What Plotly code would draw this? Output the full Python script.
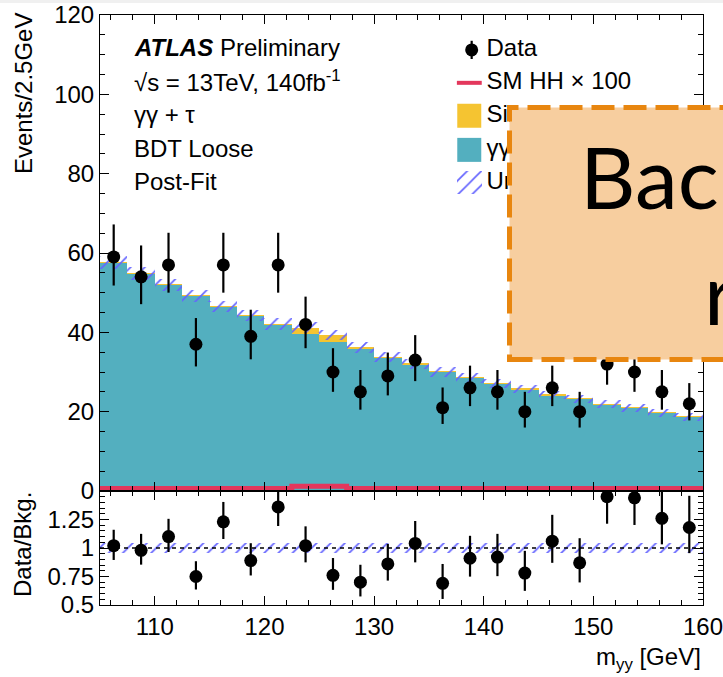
import plotly.graph_objects as go

# ---------------- data ----------------
bin_centers = [106.25, 108.75, 111.25, 113.75, 116.25, 118.75, 121.25, 123.75, 126.25, 128.75, 131.25,
               133.75, 136.25, 138.75, 141.25, 143.75, 146.25, 148.75, 151.25, 153.75, 156.25, 158.75]
bin_edges = [105.0, 107.5, 110.0, 112.5, 115.0, 117.5, 120.0, 122.5, 125.0, 127.5, 130.0, 132.5,
             135.0, 137.5, 140.0, 142.5, 145.0, 147.5, 150.0, 152.5, 155.0, 157.5, 160.0]

data_counts = [59, 54, 57, 37, 57, 39, 57, 42, 30, 25, 29, 33, 21, 26, 25, 20, 26, 20, 32, 30, 25, 22]
data_err_up = [8.2, 7.9, 8.1, 6.6, 8.1, 6.7, 8.1, 7.0, 6.0, 5.5, 5.9, 6.3, 5.1, 5.6, 5.5, 5.0, 5.6, 5.0, 6.2, 6.0, 5.5, 5.2]
data_err_dn = [7.2, 6.9, 7.0, 5.6, 7.0, 5.8, 7.0, 6.0, 5.0, 4.5, 4.9, 5.3, 4.1, 4.6, 4.5, 4.0, 4.6, 4.0, 5.2, 5.0, 4.5, 4.2]

bkg_yy = [57.6, 54.8, 52.0, 49.2, 46.5, 44.2, 42.0, 39.7, 37.6, 35.8, 33.6, 32.0, 30.0, 28.5, 27.0, 25.7,
          24.2, 23.2, 21.9, 21.0, 19.7, 18.7]
single_h = [0.02, 0.02, 0.02, 0.02, 0.02, 0.02, 0.1, 1.5, 1.8, 0.4, 0.1, 0.02, 0.02, 0.02, 0.02, 0.02,
            0.02, 0.02, 0.02, 0.02, 0.02, 0.02]
sm_hh_x100 = [0.6, 0.6, 0.6, 0.6, 0.6, 0.6, 0.6, 1.2, 1.2, 0.6, 0.6, 0.6, 0.6, 0.6, 0.6, 0.6, 0.6, 0.6, 0.6, 0.6, 0.6, 0.6]
bkg_unc = [1.6, 1.6, 1.5, 1.5, 1.5, 1.4, 1.4, 1.4, 1.3, 1.3, 1.3, 1.2, 1.2, 1.2, 1.1, 1.1, 1.1, 1.1, 1.0, 1.0, 1.0, 1.0]

ratio_vals = [1.02, 0.98, 1.10, 0.75, 1.23, 0.89, 1.36, 1.02, 0.76, 0.70, 0.86, 1.04, 0.69, 0.91, 0.92, 0.78,
              1.06, 0.87, 1.45, 1.44, 1.26, 1.18]
ratio_err_up = [0.14, 0.144, 0.156, 0.134, 0.174, 0.152, 0.193, 0.17, 0.152, 0.153, 0.176, 0.197, 0.17, 0.197,
                0.204, 0.195, 0.231, 0.216, 0.283, 0.286, 0.279, 0.278]
ratio_err_dn = [0.125, 0.126, 0.135, 0.114, 0.151, 0.131, 0.167, 0.146, 0.127, 0.125, 0.146, 0.166, 0.137, 0.161,
                0.167, 0.156, 0.19, 0.172, 0.237, 0.238, 0.228, 0.225]
ratio_unc = [0.04] * 22

legend_labels = ["Data", "SM HH \u00d7 100", "Single H", "\u03b3\u03b3 continuum", "Uncertainty"]

# ---------------- styles ----------------
TEAL = "#53AFBF"
YELLOW = "#F5C431"
RED = "#E3375C"
HATCH = "#6464ff"
FONT = "Liberation Sans, Arial, sans-serif"
FS = 24

total_bkg = [b + s for b, s in zip(bkg_yy, single_h)]
widths = [2.5] * len(bin_centers)
hatch_pattern = dict(shape="/", fgcolor=HATCH, fgopacity=1, bgcolor="rgba(0,0,0,0)", size=10, solidity=0.17)

fig = go.Figure()

# main stack
fig.add_trace(go.Bar(x=bin_centers, y=bkg_yy, width=widths, marker=dict(color=TEAL, line=dict(width=0)),
                     xaxis="x", yaxis="y", showlegend=False))
fig.add_trace(go.Bar(x=bin_centers, y=single_h, base=bkg_yy, width=widths,
                     marker=dict(color=YELLOW, line=dict(width=0)), xaxis="x", yaxis="y", showlegend=False))
fig.add_trace(go.Bar(x=bin_centers, y=[2 * u for u in bkg_unc], base=[t - u for t, u in zip(total_bkg, bkg_unc)],
                     width=widths, marker=dict(color="rgba(0,0,0,0)", line=dict(width=0), pattern=hatch_pattern),
                     xaxis="x", yaxis="y", showlegend=False))
# SM HH x 100 step line
fig.add_trace(go.Scatter(x=bin_edges, y=sm_hh_x100 + [sm_hh_x100[-1]], mode="lines",
                         line=dict(color=RED, width=5, shape="hv"),
                         xaxis="x", yaxis="y", showlegend=False))
# data
fig.add_trace(go.Scatter(x=bin_centers, y=data_counts, mode="markers",
                         marker=dict(color="black", size=13),
                         error_y=dict(type="data", symmetric=False, array=data_err_up, arrayminus=data_err_dn,
                                      color="black", thickness=2.2, width=0),
                         xaxis="x", yaxis="y", showlegend=False))

# ---- in-plot legend (drawn as traces so the overlay box covers it) ----
leg_x_text = 140.25
leg_rows = [111.2, 102.9, 94.6, 86.0, 77.7]
fig.add_trace(go.Scatter(x=[138.9], y=[leg_rows[0]], mode="markers", marker=dict(color="black", size=13),
                         error_y=dict(type="data", array=[2.3], color="black", thickness=2.2, width=0),
                         xaxis="x", yaxis="y", showlegend=False))
fig.add_trace(go.Scatter(x=[137.55, 139.82], y=[leg_rows[1], leg_rows[1]], mode="lines",
                         line=dict(color=RED, width=4), xaxis="x", yaxis="y", showlegend=False))
fig.add_trace(go.Scatter(x=[138.68], y=[leg_rows[2]], mode="markers",
                         marker=dict(symbol="square", size=24, color=YELLOW, line=dict(width=0)),
                         xaxis="x", yaxis="y", showlegend=False))
fig.add_trace(go.Scatter(x=[138.68], y=[leg_rows[3]], mode="markers",
                         marker=dict(symbol="square", size=24, color=TEAL, line=dict(width=0)),
                         xaxis="x", yaxis="y", showlegend=False))
fig.add_trace(go.Bar(x=[138.68], y=[5.8], base=[leg_rows[4] - 2.9], width=[2.27],
                     marker=dict(color="rgba(0,0,0,0)", line=dict(width=0), pattern=hatch_pattern),
                     xaxis="x", yaxis="y", showlegend=False))
fig.add_trace(go.Scatter(x=[leg_x_text] * 5, y=leg_rows, mode="text", text=legend_labels,
                         textposition="middle right", textfont=dict(family=FONT, size=FS, color="black"),
                         xaxis="x", yaxis="y", showlegend=False))

# ratio panel
fig.add_trace(go.Bar(x=bin_centers, y=[2 * u for u in ratio_unc], base=[1 - u for u in ratio_unc], width=widths,
                     marker=dict(color="rgba(0,0,0,0)", line=dict(width=0), pattern=hatch_pattern),
                     xaxis="x2", yaxis="y2", showlegend=False))
fig.add_trace(go.Scatter(x=[bin_edges[0], bin_edges[-1]], y=[1, 1], mode="lines",
                         line=dict(color="black", width=1.5, dash="4px,4px"), xaxis="x2", yaxis="y2", showlegend=False))
fig.add_trace(go.Scatter(x=bin_centers, y=ratio_vals, mode="markers", marker=dict(color="black", size=13),
                         error_y=dict(type="data", symmetric=False, array=ratio_err_up, arrayminus=ratio_err_dn,
                                      color="black", thickness=2.2, width=0),
                         xaxis="x2", yaxis="y2", showlegend=False))

# ---------------- layout ----------------
W, H = 723, 677
ML, MR, MT, MB = 100, 20, 15, 72
PW, PH = W - ML - MR, H - MT - MB
split = 114 / PH


def px(x):
    return (x - ML) / PW


def py(y):
    return (H - MB - y) / PH


axis_common = dict(showline=True, linecolor="black", linewidth=1, mirror="allticks", ticks="inside",
                   ticklen=9, tickwidth=1, tickcolor="black", showgrid=False, zeroline=False,
                   automargin=False, ticklabeloverflow="allow",
                   tickfont=dict(family=FONT, size=FS, color="black"))

fig.update_layout(
    width=W, height=H, margin=dict(l=ML, r=MR, t=MT, b=MB, pad=0, autoexpand=False),
    paper_bgcolor="white", plot_bgcolor="white", barmode="overlay", bargap=0,
    xaxis=dict(domain=[0, 1], anchor="y", range=[105, 160], dtick=10, tick0=100, showticklabels=False,
               minor=dict(dtick=2, ticklen=5, ticks="inside", tickcolor="black"), **axis_common),
    yaxis=dict(domain=[split, 1], anchor="x", range=[0, 120], dtick=20,
               minor=dict(dtick=5, ticklen=5, ticks="inside", tickcolor="black"), **axis_common),
    xaxis2=dict(domain=[0, 1], anchor="y2", range=[105, 160], dtick=10, tick0=100, matches="x",
                ticklabelstandoff=0,
                minor=dict(dtick=2, ticklen=5, ticks="inside", tickcolor="black"), **axis_common),
    yaxis2=dict(domain=[0, split], anchor="x2", range=[0.5, 1.5], tickvals=[0.5, 0.75, 1, 1.25],
                ticktext=["0.5", "0.75", "1", "1.25"],
                minor=dict(dtick=0.05, ticklen=5, ticks="inside", tickcolor="black"), **axis_common),
    font=dict(family=FONT, size=FS, color="black"),
)

ann = []
tx = px(132)
labels = [("<b><i>ATLAS</i></b> Preliminary", 47), ("\u221as = 13TeV, 140fb<sup>-1</sup>", 81),
          ("\u03b3\u03b3 + \u03c4", 114), ("BDT Loose", 148), ("Post-Fit", 181)]
for t, yy in labels:
    ann.append(dict(text=t, x=tx, y=py(yy), xref="paper", yref="paper", xanchor="left", yanchor="middle",
                    showarrow=False, font=dict(family=FONT, size=FS, color="black")))
ann.append(dict(text="Events/2.5GeV", x=px(23), y=py(94), xref="paper", yref="paper", textangle=-90,
                xanchor="center", yanchor="middle", showarrow=False, font=dict(family=FONT, size=FS)))
ann.append(dict(text="Data/Bkg.", x=px(22), y=py(545), xref="paper", yref="paper", textangle=-90,
                xanchor="center", yanchor="middle", showarrow=False, font=dict(family=FONT, size=FS)))
ann.append(dict(text="m<sub>yy</sub> [GeV]", x=px(703), y=py(658), xref="paper", yref="paper",
                xanchor="right", yanchor="middle", showarrow=False, font=dict(family=FONT, size=FS)))
# overlay box text
ann.append(dict(text="Bac", x=px(578), y=py(175), xref="paper", yref="paper", xanchor="left", yanchor="middle",
                showarrow=False, font=dict(family="Lato, Open Sans, sans-serif", size=86, color="black")))
ann.append(dict(text="r", x=px(702), y=py(291), xref="paper", yref="paper", xanchor="left", yanchor="middle",
                showarrow=False, font=dict(family="Lato, Open Sans, sans-serif", size=86, color="black")))
fig.update_layout(annotations=ann)

fig.update_layout(shapes=[
    dict(type="rect", xref="paper", yref="paper", x0=px(-5), x1=px(730), y0=py(3), y1=py(-2),
         fillcolor="#f0f0f0", line=dict(width=0), layer="above"),
    dict(type="rect", xref="paper", yref="paper", x0=px(509.5), x1=px(740), y0=py(359.5), y1=py(107.5),
         fillcolor="#F7CE9F", line=dict(color="#E8860F", width=5, dash="23px,9px"), layer="above"),
])

fig.write_html("out.html")
